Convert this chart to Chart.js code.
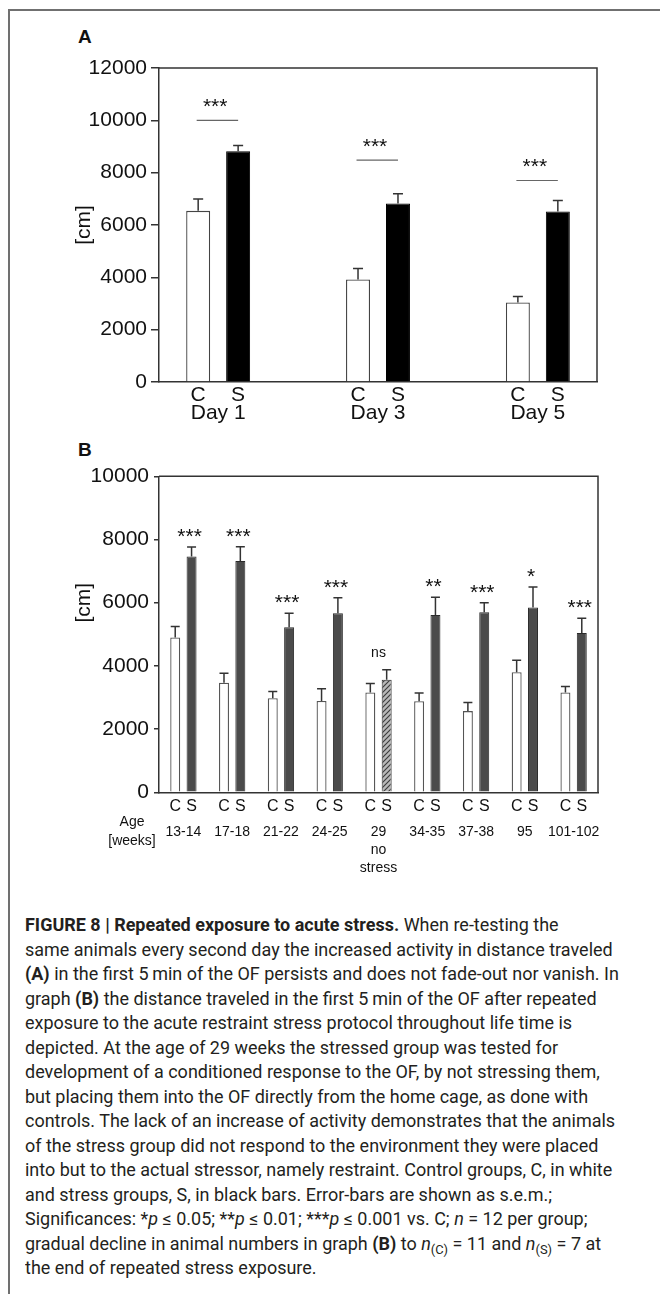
<!DOCTYPE html>
<html>
<head>
<meta charset="utf-8">
<script src="https://cdn.jsdelivr.net/npm/chart.js@4.4.1/dist/chart.umd.min.js"></script>
<style>
  html, body { margin: 0; padding: 0; background: #fff; }
  body { width: 660px; height: 1294px; position: relative; overflow: hidden; font-family: 'Liberation Sans', Arial, sans-serif; }
  #frame { position: absolute; left: 8px; top: 9px; width: 700px; height: 1400px; border-top: 2px solid #707070; border-left: 2px solid #707070; }
  .letter { position: absolute; left: 78px; font: bold 19px/19px 'Liberation Sans', Arial, sans-serif; color: #111; }
  canvas { position: absolute; left: 0; }
  #chartA { top: 0; }
  #chartB { top: 440px; }
  #caption { position: absolute; left: 25px; top: 913px; white-space: nowrap; font-family: Roboto, 'Liberation Sans', sans-serif; font-size: 18.5px; line-height: 24.5px; color: #231f20; transform-origin: 0 0; }
  #caption b { font-weight: 700; }
  #caption sub { font-size: 0.72em; line-height: 0; vertical-align: -0.3em; }
</style>
</head>
<body>
<div id="frame"></div>
<div class="letter" style="top:27px">A</div>
<div class="letter" style="top:440px">B</div>
<canvas id="chartA" width="660" height="440"></canvas>
<canvas id="chartB" width="660" height="460"></canvas>
<div id="caption">
  <div><b>FIGURE 8 | Repeated exposure to acute stress.</b> When re-testing the</div>
  <div><span id="refLine">same animals every second day the increased activity in distance traveled</span></div>
  <div><b>(A)</b> in the first 5&#8201;min of the OF persists and does not fade-out nor vanish. In</div>
  <div>graph <b>(B)</b> the distance traveled in the first 5&#8201;min of the OF after repeated</div>
  <div>exposure to the acute restraint stress protocol throughout life time is</div>
  <div>depicted. At the age of 29 weeks the stressed group was tested for</div>
  <div>development of a conditioned response to the OF, by not stressing them,</div>
  <div>but placing them into the OF directly from the home cage, as done with</div>
  <div>controls. The lack of an increase of activity demonstrates that the animals</div>
  <div>of the stress group did not respond to the environment they were placed</div>
  <div>into but to the actual stressor, namely restraint. Control groups, C, in white</div>
  <div>and stress groups, S, in black bars. Error-bars are shown as s.e.m.;</div>
  <div>Significances: *<i>p</i> &le; 0.05; **<i>p</i> &le; 0.01; ***<i>p</i> &le; 0.001 vs. C; <i>n</i> = 12 per group;</div>
  <div>gradual decline in animal numbers in graph <b>(B)</b> to <i>n</i><sub>(C)</sub> = 11 and <i>n</i><sub>(S)</sub> = 7 at</div>
  <div>the end of repeated stress exposure.</div>
</div>
<script>
(function() {
  'use strict';

  // panel A: distance on test days
  var groupsA = ['Day 1', 'Day 3', 'Day 5'];
  var controlA = [6540, 3920, 3040];
  var controlErrA = [450, 420, 230];
  var stressA = [8820, 6820, 6520];
  var stressErrA = [220, 370, 420];
  var sigA = ['***', '***', '***'];
  var sigLineA = [10000, 8480, 7700];
  var yTicksA = [0, 2000, 4000, 6000, 8000, 10000, 12000];

  // panel B: distance by age
  var groupsB = ['13-14', '17-18', '21-22', '24-25', ['29', 'no', 'stress'], '34-35', '37-38', '95', '101-102'];
  var controlB = [4900, 3470, 2980, 2890, 3160, 2880, 2570, 3800, 3160];
  var controlErrB = [350, 300, 210, 390, 285, 260, 275, 380, 190];
  var stressB = [7460, 7320, 5220, 5665, 3560, 5610, 5700, 5850, 5040];
  var stressErrB = [300, 450, 450, 490, 320, 560, 300, 650, 470];
  var sigB = ['***', '***', '***', '***', 'ns', '**', '***', '*', '***'];
  var stressedB = [true, true, true, true, false, true, true, true, true];
  var yTicksB = [0, 2000, 4000, 6000, 8000, 10000];

  var FONT = "'Liberation Sans', Arial, sans-serif";
  var INK = '#111';
  var AXIS = '#333';

  Chart.defaults.font.family = FONT;
  Chart.defaults.color = INK;

  var errorBars = {
    id: 'errorBars',
    afterDatasetsDraw: function(chart, args, opts) {
      var ctx = chart.ctx;
      var y = chart.scales.y;
      ctx.save();
      ctx.strokeStyle = opts.color;
      ctx.lineWidth = opts.width;
      chart.data.datasets.forEach(function(ds, d) {
        var meta = chart.getDatasetMeta(d);
        meta.data.forEach(function(bar, i) {
          var v = meta.controller.getParsed(i).y;
          var top = y.getPixelForValue(v + ds.errors[i]);
          ctx.beginPath();
          ctx.moveTo(bar.x, bar.y);
          ctx.lineTo(bar.x, top);
          ctx.moveTo(bar.x - opts.cap / 2, top);
          ctx.lineTo(bar.x + opts.cap / 2, top);
          ctx.stroke();
        });
      });
      ctx.restore();
    }
  };

  var frameBox = {
    id: 'frameBox',
    afterDraw: function(chart, args, opts) {
      var a = chart.chartArea;
      var ctx = chart.ctx;
      ctx.save();
      ctx.strokeStyle = opts.color;
      ctx.lineWidth = opts.width;
      ctx.beginPath();
      ctx.moveTo(a.left, a.top);
      ctx.lineTo(a.right, a.top);
      ctx.lineTo(a.right, a.bottom);
      ctx.stroke();
      ctx.restore();
    }
  };

  // C / S letters under every bar, and the rotated [cm] title
  var barLetters = {
    id: 'barLetters',
    afterDraw: function(chart, args, opts) {
      var ctx = chart.ctx;
      var a = chart.chartArea;
      ctx.save();
      ctx.fillStyle = INK;
      ctx.textAlign = 'center';
      ctx.textBaseline = 'middle';
      ctx.font = opts.size + 'px ' + FONT;
      chart.data.datasets.forEach(function(ds, d) {
        chart.getDatasetMeta(d).data.forEach(function(bar) {
          ctx.fillText(ds.label, bar.x, a.bottom + opts.offset);
        });
      });
      ctx.font = '21px ' + FONT;
      ctx.translate(a.left - 75, chart.scales.y.getPixelForValue(opts.titleAt));
      ctx.rotate(-Math.PI / 2);
      ctx.fillText('[cm]', 0, 0);
      ctx.restore();
    }
  };

  var sigMarksA = {
    id: 'sigMarksA',
    afterDraw: function(chart) {
      var ctx = chart.ctx;
      var y = chart.scales.y;
      var c = chart.getDatasetMeta(0).data;
      var s = chart.getDatasetMeta(1).data;
      ctx.save();
      groupsA.forEach(function(g, i) {
        var ly = y.getPixelForValue(sigLineA[i]);
        ctx.strokeStyle = '#666';
        ctx.lineWidth = 1.2;
        ctx.beginPath();
        ctx.moveTo(c[i].x - 1.5, ly);
        ctx.lineTo(s[i].x, ly);
        ctx.stroke();
        ctx.fillStyle = INK;
        ctx.font = '21px ' + FONT;
        ctx.textAlign = 'center';
        ctx.textBaseline = 'alphabetic';
        ctx.fillText(sigA[i], (c[i].x + s[i].x) / 2 - 3, ly - 19 + 11.9);
      });
      ctx.restore();
    }
  };

  var sigMarksB = {
    id: 'sigMarksB',
    afterDraw: function(chart) {
      var ctx = chart.ctx;
      var y = chart.scales.y;
      var c = chart.getDatasetMeta(0).data;
      var s = chart.getDatasetMeta(1).data;
      var a = chart.chartArea;
      ctx.save();
      ctx.fillStyle = INK;
      ctx.textAlign = 'center';
      ctx.textBaseline = 'alphabetic';
      sigB.forEach(function(mark, i) {
        var top = y.getPixelForValue(stressB[i] + stressErrB[i]);
        if (mark === 'ns') {
          ctx.font = '14px ' + FONT;
          ctx.fillText(mark, (c[i].x + s[i].x) / 2, top - 16 + 3.6);
        } else {
          ctx.font = '21px ' + FONT;
          ctx.fillText(mark, s[i].x - 2, top - 16 + 11.9);
        }
      });
      ctx.font = '14px ' + FONT;
      ctx.textBaseline = 'middle';
      ctx.fillText('Age', a.left - 27, a.bottom + 29.4);
      ctx.fillText('[weeks]', a.left - 27, a.bottom + 48.7);
      ctx.restore();
    }
  };

  function yScale(max, ticks, tickLen, pad) {
    return {
      min: 0,
      max: max,
      afterBuildTicks: function(s) { s.ticks = ticks.map(function(v) { return { value: v }; }); },
      afterFit: function(s) { s.width = 159; },
      ticks: { font: { size: 21 }, color: INK, padding: pad, callback: function(v) { return String(v); } },
      grid: { drawOnChartArea: false, tickLength: tickLen, color: AXIS, lineWidth: 1.5 },
      border: { color: AXIS, width: 1.5 }
    };
  }

  // ---- panel A ----
  new Chart(document.getElementById('chartA'), {
    type: 'bar',
    data: {
      datasets: [
        {
          label: 'C',
          data: controlA.map(function(v, i) { return { x: i, y: v }; }),
          errors: controlErrA,
          backgroundColor: '#fff', borderColor: '#444', borderWidth: 1.3,
          categoryPercentage: 0.5, barPercentage: 0.6
        },
        {
          label: 'S',
          data: stressA.map(function(v, i) { return { x: i, y: v }; }),
          errors: stressErrA,
          backgroundColor: '#000', borderColor: '#000', borderWidth: 1,
          categoryPercentage: 0.5, barPercentage: 0.6
        }
      ]
    },
    options: {
      responsive: false,
      animation: false,
      layout: { padding: { top: 68, right: 63, bottom: 0, left: 0 } },
      plugins: {
        legend: { display: false },
        tooltip: { enabled: false },
        errorBars: { color: AXIS, width: 1.5, cap: 10 },
        frameBox: { color: AXIS, width: 1.5 },
        barLetters: { size: 21, offset: 13, titleAt: 6000 }
      },
      scales: {
        x: {
          type: 'linear',
          offset: false,
          min: -0.37,
          max: 2.37,
          afterBuildTicks: function(s) { s.ticks = groupsA.map(function(g, i) { return { value: i }; }); },
          afterFit: function(s) { s.height = 440 - 382; },
          ticks: { font: { size: 21 }, color: INK, padding: 19, autoSkip: false, maxRotation: 0,
                   callback: function(v) { return groupsA[v]; } },
          grid: { offset: false, drawOnChartArea: false, drawTicks: false },
          border: { color: AXIS, width: 1.5 }
        },
        y: yScale(12000, yTicksA, 8, 4)
      }
    },
    plugins: [errorBars, frameBox, barLetters, sigMarksA]
  });

  // ---- panel B ----
  var canvasB = document.getElementById('chartB');
  var hatchTile = document.createElement('canvas');
  hatchTile.width = 5;
  hatchTile.height = 5;
  var h = hatchTile.getContext('2d');
  h.fillStyle = '#b8b8b8';
  h.fillRect(0, 0, 5, 5);
  h.strokeStyle = '#3a3a3a';
  h.lineWidth = 1.1;
  h.beginPath();
  h.moveTo(-1, 6); h.lineTo(6, -1);
  h.moveTo(-1, 1); h.lineTo(1, -1);
  h.moveTo(4, 6); h.lineTo(6, 4);
  h.stroke();
  var hatch = canvasB.getContext('2d').createPattern(hatchTile, 'repeat');

  new Chart(canvasB, {
    type: 'bar',
    data: {
      labels: groupsB,
      datasets: [
        {
          label: 'C',
          data: controlB,
          errors: controlErrB,
          backgroundColor: '#fff', borderColor: '#555', borderWidth: 1.3,
          categoryPercentage: 0.67, barPercentage: 0.61
        },
        {
          label: 'S',
          data: stressB,
          errors: stressErrB,
          backgroundColor: function(c) { return stressedB[c.dataIndex] ? '#4b4b4b' : hatch; },
          borderColor: '#2a2a2a', borderWidth: 1,
          categoryPercentage: 0.67, barPercentage: 0.61
        }
      ]
    },
    options: {
      responsive: false,
      animation: false,
      layout: { padding: { top: 36.3, right: 62, bottom: 0, left: 0 } },
      plugins: {
        legend: { display: false },
        tooltip: { enabled: false },
        errorBars: { color: AXIS, width: 1.5, cap: 9 },
        frameBox: { color: AXIS, width: 1.5 },
        barLetters: { size: 16, offset: 14.4, titleAt: 6000 }
      },
      scales: {
        x: {
          afterFit: function(s) { s.height = 460 - 352.3; },
          ticks: { font: { size: 14, lineHeight: '18px' }, color: INK, padding: 30.4, autoSkip: false, maxRotation: 0 },
          grid: { drawOnChartArea: false, drawTicks: false },
          border: { color: AXIS, width: 1.5 }
        },
        y: yScale(10000, yTicksB, 5, 5)
      }
    },
    plugins: [errorBars, frameBox, barLetters, sigMarksB]
  });

  // squeeze the caption to the column width of the original
  var cap = document.getElementById('caption');
  var ref = document.getElementById('refLine');
  var k = 587.7 / ref.getBoundingClientRect().width;
  cap.style.transform = 'scaleX(' + k + ')';
})();
</script>
</body>
</html>
